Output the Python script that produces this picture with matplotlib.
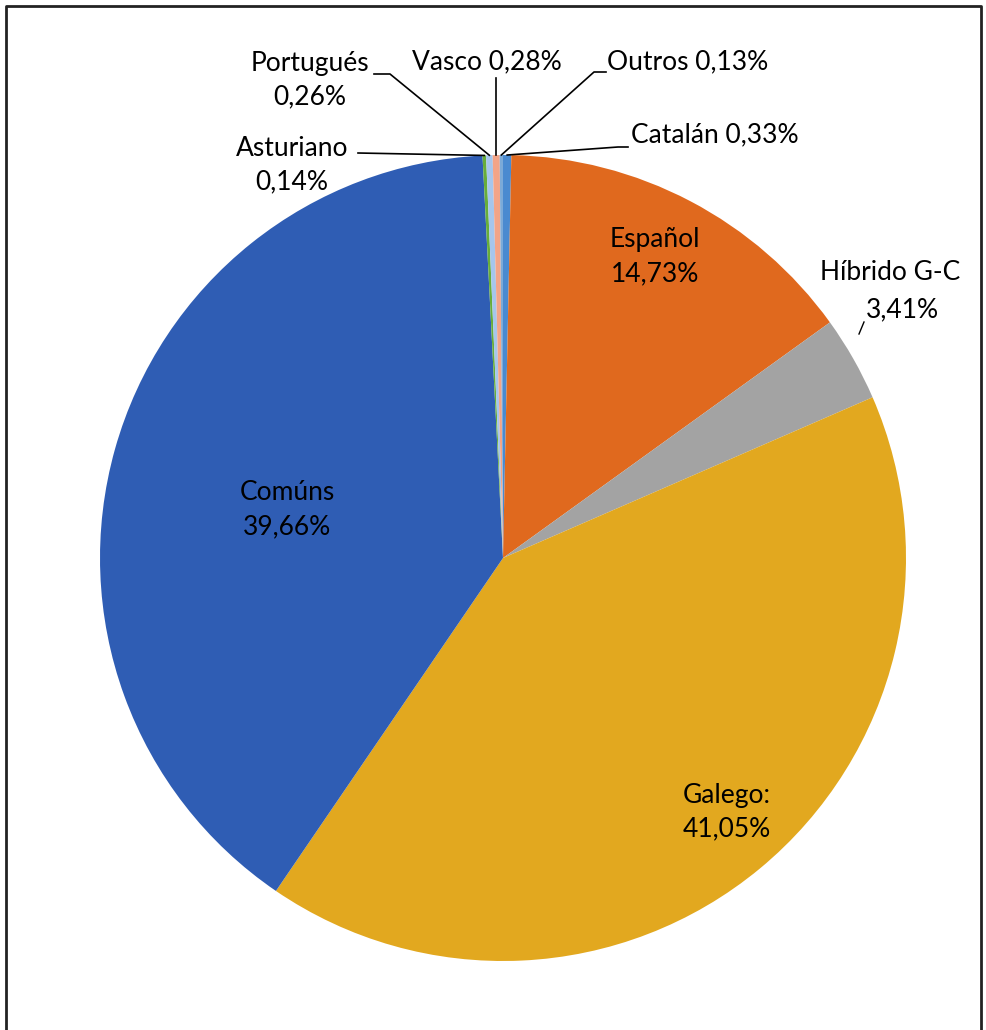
import matplotlib
matplotlib.use('Agg')
import matplotlib.pyplot as plt
import numpy as np

# data, clockwise from 12 o'clock
langs = ["Catalán", "Español", "Híbrido G-C", "Galego:", "Comúns",
         "Asturiano", "Portugués", "Vasco", "Outros"]
pcts = [0.33, 14.73, 3.41, 41.05, 39.66, 0.14, 0.26, 0.28, 0.13]
colors = ["#4A8AD0", "#E0691E", "#A3A3A3", "#E2A81F", "#2F5DB4",
          "#67AD3A", "#A6C6EC", "#F3A487", "#7BAAD8"]

W, H = 987, 1030
cx, cy, R = 503, 558, 403


def Y(y):
    return H - y


def fmt(v):
    return f"{v:.2f}".replace(".", ",") + "%"


plt.rcParams['font.family'] = ['Lato', 'DejaVu Sans']
fig = plt.figure(figsize=(W / 100, H / 100), dpi=100)
ax = fig.add_axes([0, 0, 1, 1])
wedges, _ = ax.pie(pcts, colors=colors, startangle=90, counterclock=False,
                   center=(cx, Y(cy)), radius=R,
                   wedgeprops=dict(linewidth=0))
ax.set_xlim(0, W)
ax.set_ylim(0, H)
ax.axis('off')


def edge(i, f=1.0):
    w = wedges[i]
    a = np.deg2rad((w.theta1 + w.theta2) / 2)
    return cx + R * f * np.cos(a), Y(cy) + R * f * np.sin(a)


fs = 19
# labels inside big slices (x, y in image pixels)
inside = {1: (655, 257), 3: (727, 812), 4: (287, 510)}
for i, (x, y) in inside.items():
    ax.text(x, Y(y), langs[i] + "\n" + fmt(pcts[i]), ha='center', va='center',
            fontsize=fs, linespacing=1.45)

# Híbrido outside
ax.text(890, Y(273), langs[2], ha='center', va='center', fontsize=fs)
ax.text(902, Y(310), fmt(pcts[2]), ha='center', va='center', fontsize=fs)
ax.plot([864, 859], [Y(322), Y(334)], color='black', lw=1.0)

lw = 1.2
# Catalán
ax.text(715, Y(135), langs[0] + " " + fmt(pcts[0]), ha='center', va='center', fontsize=fs)
ex, ey = edge(0)
ax.plot([628, 618, ex], [Y(147), Y(147), ey], color='black', lw=lw)
# Outros
ax.text(688, Y(62), langs[8] + " " + fmt(pcts[8]), ha='center', va='center', fontsize=fs)
ex, ey = edge(8)
ax.plot([606, 594, ex], [Y(72), Y(72), ey], color='black', lw=lw)
# Vasco
ax.text(487, Y(62), langs[7] + " " + fmt(pcts[7]), ha='center', va='center', fontsize=fs)
ex, ey = edge(7)
ax.plot([ex, ex], [Y(78), ey], color='black', lw=lw)
# Portugués
ax.text(310, Y(80), langs[6] + "\n" + fmt(pcts[6]), ha='center', va='center',
        fontsize=fs, linespacing=1.45)
ex, ey = edge(6)
ax.plot([374, 390, ex], [Y(74), Y(74), ey], color='black', lw=lw)
# Asturiano
ax.text(292, Y(165), langs[5] + "\n" + fmt(pcts[5]), ha='center', va='center',
        fontsize=fs, linespacing=1.45)
ex, ey = edge(5)
ax.plot([358, ex], [Y(153), ey], color='black', lw=lw)

# outer frame
frame = plt.Line2D([6, 6, 981, 981], [0, Y(6), Y(6), 0], color='#222222', lw=2)
ax.add_line(frame)

fig.savefig("out.png", dpi=100)
